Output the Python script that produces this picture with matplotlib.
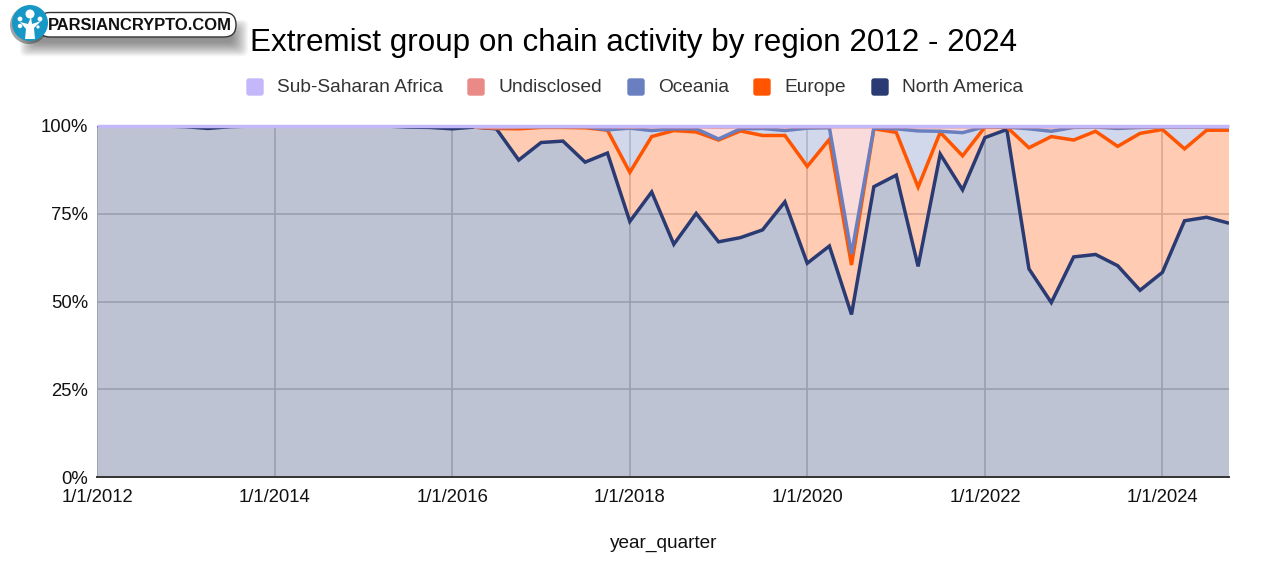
import numpy as np
import pandas as pd
import matplotlib
matplotlib.use("Agg")
import matplotlib.pyplot as plt
from matplotlib.patches import Circle, FancyBboxPatch, Polygon

plt.rcParams['font.family'] = ['Liberation Sans', 'DejaVu Sans']

year_quarter = pd.date_range("2012-01-01", "2024-10-01", freq="QS")
tick_dates = pd.to_datetime(["2012-01-01", "2014-01-01", "2016-01-01", "2018-01-01",
                             "2020-01-01", "2022-01-01", "2024-01-01"])
tick_labels = ["1/1/2012", "1/1/2014", "1/1/2016", "1/1/2018", "1/1/2020", "1/1/2022", "1/1/2024"]
pct_ticks = [0, 25, 50, 75, 100]
pct_labels = ["0%", "25%", "50%", "75%", "100%"]
series_names = ["North America", "Europe", "Oceania", "Undisclosed", "Sub-Saharan Africa"]
title_text = "Extremist group on chain activity by region 2012 - 2024"

north_america = [100.0, 100.0, 100.0, 100.0, 99.8, 99.3, 99.8, 100.0, 100.0, 100.0, 100.0, 100.0, 100.0,
                 100.0, 99.7, 99.6, 99.2, 99.7, 99.2, 90.3, 95.3, 95.7, 89.7, 92.3, 72.8, 81.2,
                 66.3, 75.1, 67.0, 68.2, 70.4, 78.4, 60.9, 65.8, 46.3, 82.7, 86.0, 60.0, 92.0,
                 81.8, 96.7, 99.0, 59.3, 49.7, 62.7, 63.4, 60.2, 53.2, 58.3, 73.0, 74.0, 72.3]
europe = [0.0, 0.0, 0.0, 0.0, 0.0, 0.0, 0.0, 0.0, 0.0, 0.0, 0.0, 0.0, 0.0,
          0.0, 0.0, 0.0, 0.0, 0.0, 0.1, 8.9, 4.3, 3.9, 9.8, 6.5, 14.0, 15.8,
          32.4, 23.2, 29.0, 30.4, 26.9, 18.9, 27.6, 30.4, 14.1, 16.5, 12.2, 22.6, 6.2,
          9.7, 3.0, 0.7, 34.5, 47.3, 33.3, 35.1, 34.0, 44.7, 40.7, 20.5, 24.8, 26.5]
oceania = [0.0, 0.0, 0.0, 0.0, 0.0, 0.0, 0.0, 0.0, 0.0, 0.0, 0.0, 0.0, 0.0,
           0.0, 0.0, 0.0, 0.0, 0.0, 0.2, 0.4, 0.2, 0.2, 0.3, 0.1, 12.6, 1.7,
           0.5, 0.9, 0.3, 0.6, 2.0, 1.4, 10.9, 3.3, 3.1, 0.2, 1.0, 16.0, 0.3,
           6.6, 0.1, 0.0, 5.4, 1.5, 3.6, 1.2, 5.1, 1.7, 0.7, 6.2, 0.9, 0.9]
undisclosed = [0.0, 0.0, 0.0, 0.0, 0.0, 0.0, 0.0, 0.0, 0.0, 0.0, 0.0, 0.0, 0.0,
               0.0, 0.0, 0.0, 0.0, 0.0, 0.1, 0.1, 0.0, 0.0, 0.0, 0.9, 0.3, 1.1,
               0.6, 0.6, 3.4, 0.6, 0.5, 1.1, 0.4, 0.3, 36.3, 0.4, 0.6, 1.2, 1.3,
               1.7, 0.0, 0.1, 0.6, 1.3, 0.2, 0.1, 0.5, 0.2, 0.1, 0.1, 0.1, 0.1]
sub_saharan_africa = [0.0, 0.0, 0.0, 0.0, 0.2, 0.7, 0.2, 0.0, 0.0, 0.0, 0.0, 0.0, 0.0,
                      0.0, 0.3, 0.4, 0.8, 0.3, 0.4, 0.3, 0.2, 0.2, 0.2, 0.2, 0.3, 0.2,
                      0.2, 0.2, 0.3, 0.2, 0.2, 0.2, 0.2, 0.2, 0.2, 0.2, 0.2, 0.2, 0.2,
                      0.2, 0.2, 0.2, 0.2, 0.2, 0.2, 0.2, 0.2, 0.2, 0.2, 0.2, 0.2, 0.2]

colors = ["#2a3a72", "#ff5500", "#6a7fbf", "#e98a86", "#c4b8fa"]
series = [north_america, europe, oceania, undisclosed, sub_saharan_africa]

W, H = 1262, 562
fig = plt.figure(figsize=(W / 100, H / 100), dpi=100, facecolor="white")
L, R, T, B = 97, 1229, 126, 477
ax = fig.add_axes([L / W, 1 - B / H, (R - L) / W, (B - T) / H])
ax.set_axisbelow(True)
ax.stackplot(year_quarter, *series, colors=colors, alpha=0.3, linewidth=0, zorder=2)
tops = np.cumsum(np.array(series), axis=0)
for i, (share, top, color) in enumerate(zip(series, tops, colors)):
    # a band's line only starts where that region has any activity
    start = 0 if i in (0, 4) else max(int(np.argmax(np.array(share) > 0)) - 1, 0)
    ax.plot(year_quarter[start:], top[start:], color=color, lw=2.5, zorder=3 + 0.1 * i,
            solid_joinstyle="miter", solid_capstyle="butt", clip_on=(i != 4))

ax.set_xlim(year_quarter[0], year_quarter[-1])
ax.set_ylim(0, 100)
ax.set_yticks(pct_ticks, pct_labels)
ax.set_xticks(tick_dates, tick_labels)
ax.grid(True, color="#cccccc", lw=1.2, zorder=1)
for s in ["top", "right", "left"]:
    ax.spines[s].set_visible(False)
ax.spines["bottom"].set_color("#333333")
ax.spines["bottom"].set_linewidth(1.4)
ax.spines["bottom"].set_zorder(5)
ax.tick_params(axis="both", length=0, labelsize=13.3, labelcolor="#111111")
ax.tick_params(axis="x", pad=8.5)
ax.tick_params(axis="y", pad=6.5)

# overlay in pixel coordinates for title, legend, axis title and logo
ov = fig.add_axes([0, 0, 1, 1], zorder=10)
ov.set_xlim(0, W)
ov.set_ylim(H, 0)
ov.axis("off")
ov.patch.set_alpha(0)

ov.text(634, 43, title_text, fontsize=22.6, ha="center", va="center", color="#000000")
ov.text(663.5, 544, "year_quarter", fontsize=13.7, ha="center", va="center", color="#111111")

legend_items = [("Sub-Saharan Africa", colors[4], 246), ("Undisclosed", colors[3], 467),
                ("Oceania", colors[2], 627), ("Europe", colors[1], 753),
                ("North America", colors[0], 871)]
for name, c, x0 in legend_items:
    ov.add_patch(FancyBboxPatch((x0 + 1, 79), 16, 16, boxstyle="round,pad=0,rounding_size=2",
                                fc=c, ec=c, lw=1))
    ov.text(x0 + 31, 88, name, fontsize=13.75, va="center", ha="left", color="#333333")

# logo
for i in range(18):
    grow = 18 - i
    ov.add_patch(FancyBboxPatch((36 - grow * 0.9, 34 - grow * 0.8), 196 + grow * 1.8, 8 + grow * 1.6,
                                boxstyle="round,pad=0,rounding_size=6", fc="#000000", ec="none", alpha=0.028))
ov.add_patch(Circle((29, 25), 19, fc="#333333", ec="none", alpha=0.45))
ov.add_patch(FancyBboxPatch((38, 12.5), 198, 24.5, boxstyle="round,pad=0,rounding_size=12",
                            fc="white", ec="#333333", lw=1))
ov.text(140, 25, "PARSIANCRYPTO.COM", fontsize=11.9, fontweight="bold", ha="center", va="center",
        color="#111111")
ov.add_patch(Circle((30, 23), 18, fc="#1797c5", ec="none"))
ov.add_patch(Polygon([(25, 39), (35, 39), (34, 28), (41, 21), (32, 24), (31, 17), (28, 24), (20, 22), (26, 29)],
                     fc="white", ec="none"))
for cx, cy, r in [(30, 14, 4.5), (20, 19, 2.4), (40, 19, 2.4), (20, 26, 2.2), (38, 27, 1.6)]:
    ov.add_patch(Circle((cx, cy), r, fc="white", ec="none"))

fig.savefig("out.png", dpi=100, facecolor="white")
